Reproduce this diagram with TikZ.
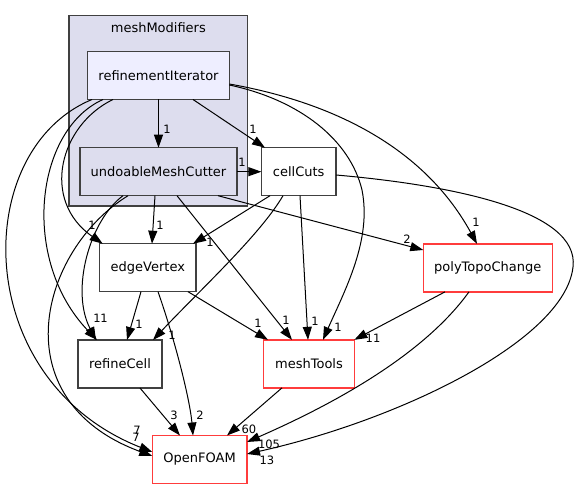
\documentclass[tikz,border=0pt]{standalone}
\usepackage{fontspec}
\setmainfont{DejaVu Sans}
\usetikzlibrary{arrows.meta}
\definecolor{clfill}{HTML}{DDDDEE}
\definecolor{rifill}{HTML}{EEEEFF}
\definecolor{bord}{HTML}{404040}
\definecolor{redb}{HTML}{FF3C3C}
\tikzset{
  box/.style={draw=bord, line width=1.3pt, fill=white, inner sep=0pt, outer sep=0pt, minimum height=48pt, font=\fontsize{13}{15}\selectfont},
  redbox/.style={box, draw=redb, line width=1.5pt},
  clusterbox/.style={draw=bord, line width=1.3pt, fill=clfill, inner sep=0pt, outer sep=0pt},
  edge/.style={draw=black, line width=1pt, -{Triangle[length=13pt,width=9pt]}},
  lbl/.style={inner sep=0pt, font=\fontsize{11.5}{13}\selectfont}
}
\begin{document}
\begin{tikzpicture}[x=1pt,y=-1pt]
\useasboundingbox (0,0) rectangle (579,489);
% cluster
\node[clusterbox, minimum width=178.7pt, minimum height=190.3pt] (mm) at (158.35,110.85) {};
\node[inner sep=0pt, font=\fontsize{13}{15}\selectfont] (mmt) at (158.35,27.5) {meshModifiers};
% nodes
\node[box, fill=rifill, minimum width=141.6pt] (ri) at (158.5,75.5) {refinementIterator};
\node[box, fill=clfill, minimum width=157pt] (umc) at (158.5,171.7) {undoableMeshCutter};
\node[box, minimum width=74.7pt] (cc) at (298.7,171.7) {cellCuts};
\node[box, minimum width=96.3pt] (ev) at (147.85,267.7) {edgeVertex};
\node[redbox, minimum width=129pt] (ptc) at (487.8,267.85) {polyTopoChange};
\node[box, minimum width=84pt] (rc) at (120,364) {refineCell};
\node[redbox, minimum width=90.6pt] (mt) at (309,363.85) {meshTools};
\node[redbox, minimum width=94.7pt] (of) at (199.65,459.5) {OpenFOAM};
% edges
\draw[edge] (ri.south) -- (umc.north);
\draw[edge] ([xshift=34.5pt]ri.south) -- ([xshift=-33.7pt]cc.north);
\draw[edge] (umc.east) -- (cc.west);
\draw[edge] ([yshift=-8.5pt]ri.east) .. controls (320,100) and (420,140) .. ([xshift=-10.8pt]ptc.north);
\draw[edge] ([yshift=-9.5pt]ri.east) .. controls (300,100) and (350,140) .. (362,190) .. controls (372,240) and (345,290) .. ([xshift=14pt]mt.north);
\draw[edge] ([xshift=-45.5pt]ri.south) .. controls (60,125) and (40,200) .. ([xshift=3pt]ev.north west);
\draw[edge] ([xshift=-55.5pt]ri.south) .. controls (35,130) and (20,260) .. ([xshift=-23pt]rc.north);
\draw[edge] ([xshift=-66.5pt]ri.south) .. controls (-30,150) and (-30,380) .. ([yshift=7.5pt]of.west);
\draw[edge] ([xshift=-35.5pt]umc.south) .. controls (90,220) and (70,290) .. ([xshift=-24pt]rc.north);
\draw[edge] ([xshift=-30.5pt]umc.south) .. controls (40,250) and (0,400) .. ([yshift=3.5pt]of.west);
\draw[edge] ([xshift=-3.5pt]umc.south) -- ([xshift=4.15pt]ev.north);
\draw[edge] ([xshift=18.5pt]umc.south) -- ([xshift=-17pt]mt.north);
\draw[edge] ([xshift=59.5pt]umc.south) -- ([yshift=17.85pt]ptc.west);
\draw[edge] ([xshift=-28.7pt]cc.south) -- ([xshift=45.15pt]ev.north);
\draw[edge] ([xshift=-15.7pt]cc.south) .. controls (260,235) and (200,290) .. ([xshift=33pt]rc.north);
\draw[edge] ([xshift=1.3pt]cc.south) -- ([xshift=-1pt]mt.north);
\draw[edge] ([yshift=-3.3pt]cc.east) .. controls (450,185) and (580,210) .. (573,267) .. controls (565,340) and (400,420) .. ([yshift=5.5pt]of.east);
\draw[edge] ([xshift=-42.8pt]ptc.south) -- (mt.north east);
\draw[edge] ([xshift=-18.8pt]ptc.south) .. controls (420,360) and (320,410) .. ([yshift=17.5pt]of.east);
\draw[edge] ([xshift=-6.85pt]ev.south) -- ([xshift=7pt]rc.north);
\draw[edge] ([xshift=40.15pt]ev.south) -- ([xshift=-41pt]mt.north);
\draw[edge] ([xshift=10.15pt]ev.south) .. controls (175,340) and (190,400) .. ([xshift=-6.65pt]of.north);
\draw[edge] ([xshift=20pt]rc.south) -- ([xshift=-19.65pt]of.north);
\draw[edge] ([xshift=-27pt]mt.south) -- ([xshift=27.35pt]of.north);
% labels
\node[lbl] (l1) at (167,129) {1};
\node[lbl] (l2) at (253,129) {1};
\node[lbl] (l3) at (242,162) {1};
\node[lbl] (l4) at (476,222) {1};
\node[lbl] (l5) at (338,327) {1};
\node[lbl] (l6) at (92,225) {1};
\node[lbl] (l7) at (97,318) {1};
\node[lbl] (l8) at (104,318) {1};
\node[lbl] (l9) at (137,430) {7};
\node[lbl] (l10) at (136,437) {7};
\node[lbl] (l11) at (160,225) {1};
\node[lbl] (l12) at (286,320) {1};
\node[lbl] (l13) at (407,239) {2};
\node[lbl] (l14) at (210,242) {1};
\node[lbl] (l15) at (172,335) {1};
\node[lbl] (l16) at (315,321) {1};
\node[lbl] (l17) at (267,460) {13};
\node[lbl] (l18) at (373,338) {11};
\node[lbl] (l19) at (269,444) {105};
\node[lbl] (l20) at (139,324) {1};
\node[lbl] (l21) at (258,323) {1};
\node[lbl] (l22) at (200,415) {2};
\node[lbl] (l23) at (174,415) {3};
\node[lbl] (l24) at (249,429) {60};
\end{tikzpicture}
\end{document}
